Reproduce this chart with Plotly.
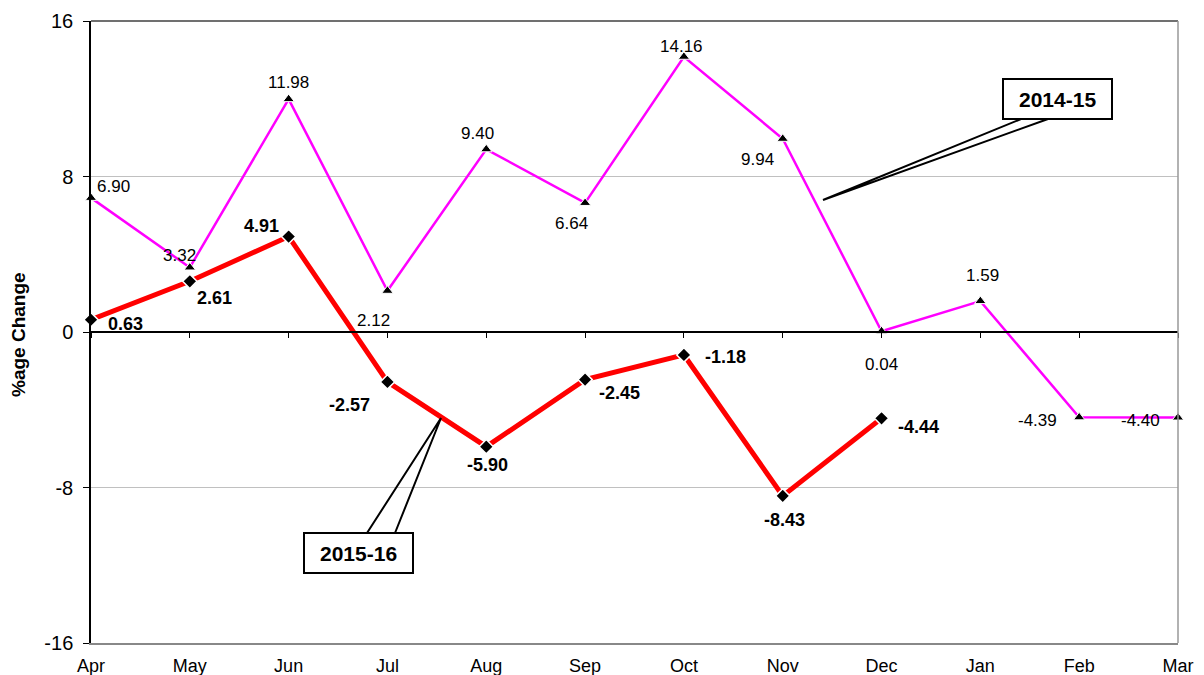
import plotly.graph_objects as go

months = ["Apr", "May", "Jun", "Jul", "Aug", "Sep", "Oct", "Nov", "Dec", "Jan", "Feb", "Mar"]
vals_1415 = [6.90, 3.32, 11.98, 2.12, 9.40, 6.64, 14.16, 9.94, 0.04, 1.59, -4.39, -4.40]
vals_1516 = [0.63, 2.61, 4.91, -2.57, -5.90, -2.45, -1.18, -8.43, -4.44]
months_1516 = months[:len(vals_1516)]
y_ticks = [-16, -8, 0, 8, 16]
y_ticktext = ["-16", "-8", "0", "8", "16"]

# label offsets (pixels) for data labels
shift_1415 = [(22, 11), (-10, 12), (0, 17), (-14, -30), (-9, 16), (-14, -21),
              (-2, 10), (-25, -21), (0, -33), (2, 26), (-42, -3), (-38, -3)]
shift_1516 = [(34, -4), (25, -17), (-27, 11), (-38, -23), (1, -18), (34, -13),
              (42, -2), (2, -24), (37, -9)]

OFF = 8  # page body margin
W, H = 1204 - OFF, 675 - OFF
L, R, T, B = 91 - OFF, 26, 21 - OFF, 32
PW, PH = W - L - R, H - T - B
FONT = "Liberation Sans, Arial"


def px(x):
    return (x - OFF - L) / PW


def py(y):
    return (H - B - (y - OFF)) / PH


fig = go.Figure()
fig.add_trace(go.Scatter(
    x=months, y=[0] * len(months), xaxis="x2", yaxis="y", mode="lines",
    line=dict(width=0), hoverinfo="skip", showlegend=False,
))
fig.add_trace(go.Scatter(
    x=months, y=vals_1415, mode="lines+markers", name="2014-15",
    line=dict(color="#FF00FF", width=2.5),
    marker=dict(symbol="triangle-up", size=10, color="black", line=dict(color="white", width=1)),
    cliponaxis=False,
))
fig.add_trace(go.Scatter(
    x=months_1516, y=vals_1516, mode="lines+markers", name="2015-16",
    line=dict(color="#FF0000", width=5),
    marker=dict(symbol="diamond", size=11, color="black", line=dict(color="white", width=1.5)),
    cliponaxis=False,
))

annotations = []
for m, v, (dx, dy) in zip(months, vals_1415, shift_1415):
    annotations.append(dict(x=m, y=v, xref="x", yref="y", text=f"{v:.2f}", showarrow=False,
                            xshift=dx, yshift=dy, xanchor="center", yanchor="middle",
                            font=dict(family=FONT, size=17, color="black")))
for m, v, (dx, dy) in zip(months_1516, vals_1516, shift_1516):
    annotations.append(dict(x=m, y=v, xref="x", yref="y", text=f"<b>{v:.2f}</b>", showarrow=False,
                            xshift=dx, yshift=dy, xanchor="center", yanchor="middle",
                            font=dict(family=FONT, size=18, color="black")))

# callout labels
annotations.append(dict(x=px(1057.5), y=py(99.5), xref="paper", yref="paper", text="<b>2014-15</b>",
                        showarrow=False, xanchor="center", yanchor="middle",
                        font=dict(family=FONT, size=21, color="black")))
annotations.append(dict(x=px(358.5), y=py(553.5), xref="paper", yref="paper", text="<b>2015-16</b>",
                        showarrow=False, xanchor="center", yanchor="middle",
                        font=dict(family=FONT, size=21, color="black")))
# y-axis title
annotations.append(dict(x=px(18), y=py(335), xref="paper", yref="paper", text="<b>%age Change</b>",
                        textangle=-90, showarrow=False, xanchor="center", yanchor="middle",
                        font=dict(family=FONT, size=19, color="black")))

shapes = [
    # top and right borders
    dict(type="line", xref="paper", yref="paper", x0=0, x1=1, y0=1, y1=1, line=dict(color="#404040", width=1.5)),
    dict(type="line", xref="paper", yref="paper", x0=1, x1=1, y0=0, y1=1, line=dict(color="#999999", width=1.5)),
    # callout pointers
    dict(type="path", xref="paper", yref="paper",
         path=f"M {px(1021)},{py(119)} L {px(823)},{py(200)} L {px(1048)},{py(119)}",
         line=dict(color="black", width=2)),
    dict(type="path", xref="paper", yref="paper",
         path=f"M {px(367)},{py(533)} L {px(441)},{py(418)} L {px(395)},{py(533)}",
         line=dict(color="black", width=2)),
    # callout boxes
    dict(type="rect", xref="paper", yref="paper", x0=px(1003), x1=px(1112), y0=py(79), y1=py(119),
         line=dict(color="black", width=2), fillcolor="white"),
    dict(type="rect", xref="paper", yref="paper", x0=px(304), x1=px(413), y0=py(533), y1=py(573),
         line=dict(color="black", width=2), fillcolor="white"),
]

fig.update_layout(
    width=W, height=H,
    margin=dict(l=L, r=R, t=T, b=B, pad=0, autoexpand=False),
    paper_bgcolor="white", plot_bgcolor="white",
    showlegend=False,
    annotations=annotations,
    shapes=shapes,
    xaxis=dict(type="category", categoryorder="array", categoryarray=months, range=[0, 11],
               showgrid=False, zeroline=False, showline=True, linecolor="#888888", linewidth=1.5,
               ticks="", ticklabelstandoff=6, automargin=False,
               tickfont=dict(family=FONT, size=18, color="black")),
    xaxis2=dict(type="category", categoryorder="array", categoryarray=months, range=[0, 11],
                overlaying="x", anchor="free", position=0.5, side="bottom",
                ticks="outside", ticklen=5, tickcolor="black", tickwidth=1,
                showticklabels=False, showgrid=False, zeroline=False, showline=True,
                linecolor="black", linewidth=1.5, automargin=False),
    yaxis=dict(range=[-16, 16], tickvals=y_ticks, ticktext=y_ticktext,
               showgrid=True, gridcolor="#C0C0C0", gridwidth=1,
               zeroline=False, showline=True, linecolor="black", linewidth=1.5,
               ticks="outside", ticklen=6, tickcolor="black", ticklabelstandoff=6, automargin=False,
               tickfont=dict(family=FONT, size=20, color="black")),
)

fig.write_html("out.html")
